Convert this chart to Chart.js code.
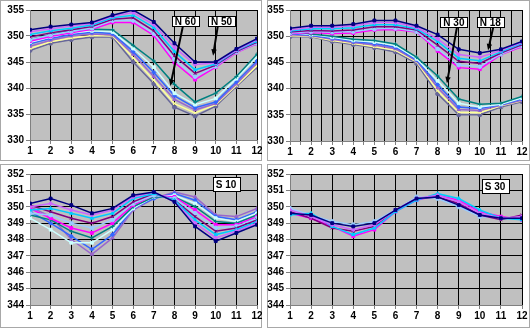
<!DOCTYPE html>
<html>
<head>
<meta charset="utf-8">
<script src="https://cdn.jsdelivr.net/npm/chart.js@4"></script>
<style>
  body { margin: 0; background: #fff; width: 530px; height: 328px; overflow: hidden; position: relative; }
  .frame { position: absolute; box-sizing: border-box; border: 1px solid #a8a8a8; }
  canvas { position: absolute; }
</style>
</head>
<body>
<div class="frame" style="left:0;top:0;width:262px;height:161px"></div>
<div class="frame" style="left:267px;top:0;width:263px;height:161px"></div>
<div class="frame" style="left:0;top:164px;width:262px;height:164px"></div>
<div class="frame" style="left:267px;top:164px;width:263px;height:164px"></div>
<canvas id="c1" width="262" height="161" style="left:0;top:0"></canvas>
<canvas id="c2" width="263" height="161" style="left:267px;top:0"></canvas>
<canvas id="c3" width="262" height="164" style="left:0;top:164px"></canvas>
<canvas id="c4" width="263" height="164" style="left:267px;top:164px"></canvas>
<script>
const months = [1, 2, 3, 4, 5, 6, 7, 8, 9, 10, 11, 12];

// top left : N 50 (upper bundle) and N 60 (lower bundle)
const n50 = [
  [351.2, 351.8, 352.2, 352.6, 354.0, 355.0, 352.7, 348.6, 345.0, 345.0, 347.5, 349.5],
  [350.8, 351.4, 351.9, 352.4, 353.8, 354.5, 352.2, 347.8, 344.5, 344.8, 347.3, 349.3],
  [350.3, 351.0, 351.5, 352.1, 353.5, 354.0, 351.6, 347.0, 343.5, 344.6, 347.2, 349.0],
  [349.8, 350.6, 351.2, 351.8, 353.2, 353.5, 351.0, 346.2, 342.8, 344.4, 347.0, 348.8],
  [349.3, 350.2, 350.9, 351.5, 353.0, 353.0, 350.5, 345.5, 342.2, 344.2, 346.9, 348.6],
  [349.0, 349.9, 350.6, 351.3, 352.6, 352.6, 350.1, 344.9, 341.6, 344.0, 346.8, 348.5]
];
const n60 = [
  [349.3, 350.3, 351.0, 351.3, 351.2, 348.2, 345.2, 340.7, 337.3, 339.0, 342.2, 346.5],
  [348.8, 349.8, 350.6, 351.0, 350.8, 347.6, 344.0, 339.0, 336.8, 338.0, 341.8, 346.0],
  [348.5, 349.5, 350.3, 350.7, 350.5, 347.0, 343.0, 338.5, 336.2, 337.3, 341.2, 345.2],
  [348.0, 349.2, 350.0, 350.4, 350.2, 346.5, 342.2, 337.8, 335.8, 337.0, 340.8, 344.8],
  [347.6, 348.9, 349.6, 350.1, 350.0, 345.8, 341.5, 337.0, 335.2, 336.8, 340.5, 344.3],
  [347.2, 348.6, 349.3, 349.8, 349.8, 345.0, 340.8, 336.3, 334.6, 336.5, 340.3, 344.0]
];

// top right : N 18 (upper bundle) and N 30 (lower bundle)
const n18 = [
  [351.5, 352.0, 352.0, 352.3, 353.0, 353.0, 352.0, 350.3, 347.5, 346.8, 347.5, 349.0],
  [351.2, 351.7, 351.7, 352.0, 352.6, 352.6, 351.7, 349.5, 346.5, 346.0, 347.3, 348.8],
  [351.0, 351.4, 351.4, 351.6, 352.2, 352.2, 351.4, 349.0, 345.8, 345.3, 347.0, 348.6],
  [350.8, 351.1, 351.0, 351.2, 351.8, 351.8, 351.2, 348.3, 345.2, 344.8, 346.8, 348.4],
  [350.6, 350.9, 350.8, 350.9, 351.4, 351.5, 350.9, 347.6, 344.5, 344.2, 346.6, 348.2],
  [350.5, 350.7, 350.5, 350.6, 351.2, 351.3, 350.8, 347.2, 344.0, 343.7, 346.5, 348.0]
];
const n30 = [
  [351.0, 350.4, 350.0, 349.4, 349.2, 348.5, 346.0, 342.4, 338.0, 337.0, 337.2, 338.5],
  [350.7, 350.3, 349.8, 349.2, 348.9, 348.2, 345.7, 341.5, 337.2, 336.5, 337.0, 338.2],
  [350.5, 350.2, 349.6, 349.0, 348.6, 347.9, 345.5, 340.8, 336.5, 336.2, 336.9, 338.0],
  [350.3, 350.1, 349.4, 348.8, 348.3, 347.6, 345.3, 340.2, 336.0, 335.8, 336.8, 337.8],
  [350.1, 350.0, 349.2, 348.6, 348.0, 347.3, 345.1, 339.6, 335.5, 335.4, 336.7, 337.7],
  [349.9, 349.9, 349.0, 348.4, 347.8, 347.0, 344.8, 339.0, 335.0, 335.0, 336.5, 337.5]
];

// bottom left : S 10
const s10 = [
  [350.2, 350.5, 350.1, 349.6, 349.9, 350.7, 350.9, 350.3, 348.8, 347.9, 348.4, 348.9],
  [350.0, 350.2, 349.8, 349.5, 349.8, 350.6, 350.9, 350.3, 349.0, 348.1, 348.5, 349.0],
  [349.8, 349.9, 349.6, 349.3, 349.6, 350.5, 350.8, 350.4, 349.2, 348.3, 348.6, 349.1],
  [350.1, 349.7, 349.3, 349.0, 349.4, 350.3, 350.8, 350.4, 349.4, 348.5, 348.7, 349.2],
  [349.6, 349.5, 349.0, 348.7, 349.2, 350.2, 350.7, 350.5, 349.6, 348.7, 348.8, 349.3],
  [349.9, 349.3, 348.7, 348.4, 349.0, 350.1, 350.7, 350.6, 349.8, 348.9, 348.9, 349.4],
  [349.5, 349.2, 348.5, 348.1, 348.8, 350.0, 350.6, 350.6, 350.0, 349.1, 349.0, 349.5],
  [349.3, 348.6, 347.8, 347.8, 348.6, 349.9, 350.6, 350.7, 350.2, 349.3, 349.1, 349.6],
  [349.7, 349.0, 348.2, 347.4, 348.3, 349.9, 350.5, 350.8, 350.4, 349.4, 349.2, 349.7],
  [350.0, 349.4, 348.0, 347.1, 348.1, 349.8, 350.5, 350.9, 350.6, 349.5, 349.4, 349.9]
];

// bottom right : S 30
const s30 = [
  [349.6, 349.5, 349.0, 348.8, 349.0, 349.8, 350.5, 350.6, 350.1, 349.5, 349.3, 349.3],
  [349.8, 349.4, 348.9, 348.6, 348.9, 349.8, 350.5, 350.7, 350.3, 349.6, 349.3, 349.4],
  [349.5, 349.6, 348.8, 348.3, 348.7, 349.7, 350.4, 350.8, 350.5, 349.8, 349.3, 349.2],
  [349.7, 349.3, 348.7, 348.5, 348.8, 349.8, 350.5, 350.6, 350.2, 349.5, 349.2, 349.5],
  [349.9, 349.5, 349.1, 348.9, 349.1, 349.8, 350.6, 350.5, 350.0, 349.4, 349.3, 349.3],
  [349.6, 349.3, 348.8, 348.2, 348.6, 349.7, 350.4, 350.7, 350.4, 349.7, 349.4, 349.2]
];

const colors = ["#000080", "#cc66ff", "#00ccff", "#800080", "#99ccff", "#ff00ff",
  "#008080", "#ccffff", "#3366ff", "#9966cc", "#ffff99", "#666699"];
const shapes = ["rect", "rectRot", "triangle", "crossRot", "circle", "rect", "cross"];

const bgPlugin = {
  id: "plotBg",
  beforeDraw(chart) {
    const a = chart.chartArea;
    chart.ctx.save();
    chart.ctx.fillStyle = "#c0c0c0";
    chart.ctx.fillRect(a.left, a.top, a.right - a.left, a.bottom - a.top);
    chart.ctx.restore();
  }
};

const notesPlugin = {
  id: "boxNotes",
  afterDatasetsDraw(chart, args, opts) {
    const ctx = chart.ctx;
    const xs = chart.scales.x;
    const ys = chart.scales.y;
    ctx.save();
    for (const n of opts.items) {
      if (n.arrow) {
        const x1 = xs.getPixelForValue(n.arrow[0]);
        const y1 = ys.getPixelForValue(n.arrow[1]);
        const x2 = xs.getPixelForValue(n.arrow[2]);
        const y2 = ys.getPixelForValue(n.arrow[3]);
        const ang = Math.atan2(y2 - y1, x2 - x1);
        ctx.strokeStyle = "#000";
        ctx.fillStyle = "#000";
        ctx.lineWidth = 2;
        ctx.beginPath();
        ctx.moveTo(x1, y1);
        ctx.lineTo(x2 - 5 * Math.cos(ang), y2 - 5 * Math.sin(ang));
        ctx.stroke();
        ctx.beginPath();
        ctx.moveTo(x2, y2);
        ctx.lineTo(x2 - 7 * Math.cos(ang - 0.4), y2 - 7 * Math.sin(ang - 0.4));
        ctx.lineTo(x2 - 7 * Math.cos(ang + 0.4), y2 - 7 * Math.sin(ang + 0.4));
        ctx.closePath();
        ctx.fill();
      }
      const cx = xs.getPixelForValue(n.x);
      const cy = ys.getPixelForValue(n.y);
      ctx.font = "bold 10px 'Liberation Sans', Arial, sans-serif";
      const w = ctx.measureText(n.text).width + 6;
      const h = n.h;
      ctx.fillStyle = "#fff";
      ctx.fillRect(Math.round(cx - w / 2) + 0.5, Math.round(cy - h / 2) + 0.5, Math.round(w), h);
      ctx.strokeStyle = "#000";
      ctx.lineWidth = 1;
      ctx.strokeRect(Math.round(cx - w / 2) + 0.5, Math.round(cy - h / 2) + 0.5, Math.round(w), h);
      ctx.fillStyle = "#000";
      ctx.textAlign = "center";
      ctx.textBaseline = "middle";
      ctx.fillText(n.text, cx, cy + 1);
    }
    ctx.restore();
  }
};

function makePanel(id, groups, yMin, yMax, yStep, xStep, box, notes) {
  let datasets = [];
  let k = 0;
  for (let g = 0; g < groups.length; g++) {
    for (let s = 0; s < groups[g].length; s++) {
      const c = colors[k % colors.length];
      datasets.push({
        data: groups[g][s].map((v, i) => ({ x: months[i], y: v })),
        borderColor: c,
        backgroundColor: c,
        borderWidth: 1.5,
        pointStyle: shapes[k % shapes.length],
        pointRadius: 2,
        pointBorderWidth: 1,
        tension: 0
      });
      k++;
    }
  }
  const font = { family: "'Liberation Sans', Arial, sans-serif", size: 10, weight: "bold" };
  new Chart(document.getElementById(id), {
    type: "line",
    data: { datasets: datasets },
    plugins: [bgPlugin, notesPlugin],
    options: {
      responsive: false,
      animation: false,
      layout: { padding: { left: 0, top: 10, right: box.right, bottom: 0 } },
      plugins: {
        legend: { display: false },
        tooltip: { enabled: false },
        boxNotes: { items: notes }
      },
      scales: {
        x: {
          type: "linear",
          min: 1,
          max: 12,
          afterFit(scale) {
            scale.height = box.bottom;
            scale.paddingLeft = 0;
            scale.paddingRight = 0;
          },
          ticks: {
            stepSize: xStep,
            color: "#000",
            font: font,
            padding: 1,
            maxRotation: 0,
            autoSkip: false,
            callback: (v) => (Number.isInteger(v) ? v : "")
          },
          grid: {
            color: "#000",
            borderDash: [1, 2],
            tickColor: "#808080",
            tickBorderDash: [],
            tickLength: 4
          },
          border: { display: true, color: "#808080", width: 1 }
        },
        y: {
          min: yMin,
          max: yMax,
          afterFit(scale) {
            scale.width = box.left;
            scale.paddingTop = 0;
            scale.paddingBottom = 0;
          },
          ticks: { stepSize: yStep, color: "#000", font: font, padding: 2 },
          grid: {
            color: "#000",
            borderDash: [1, 2],
            tickColor: "#808080",
            tickBorderDash: [],
            tickLength: 4
          },
          border: { display: true, color: "#808080", width: 1 }
        }
      }
    }
  });
}

makePanel("c1", [n50, n60], 330, 355, 5, 1, { left: 30, right: 5, bottom: 21 }, [
  { text: "N 60", x: 8.53, y: 352.9, h: 10, arrow: [8.41, 351.9, 7.8, 340.4] },
  { text: "N 50", x: 10.28, y: 352.9, h: 10, arrow: [10.1, 351.9, 9.87, 346.2] }
]);
makePanel("c2", [n18, n30], 330, 355, 5, 0.5, { left: 23, right: 8, bottom: 20 }, [
  { text: "N 30", x: 8.77, y: 352.7, h: 10, arrow: [8.92, 351.8, 8.44, 341.0] },
  { text: "N 18", x: 10.5, y: 352.7, h: 10, arrow: [10.63, 351.6, 10.39, 347.3] }
]);
makePanel("c3", [s10], 344, 352, 1, 1, { left: 30, right: 5, bottom: 23 }, [
  { text: "S 10", x: 10.5, y: 351.4, h: 14 }
]);
makePanel("c4", [s30], 344, 352, 1, 1, { left: 23, right: 8, bottom: 23 }, [
  { text: "S 30", x: 10.72, y: 351.25, h: 14 }
]);
</script>
</body>
</html>
